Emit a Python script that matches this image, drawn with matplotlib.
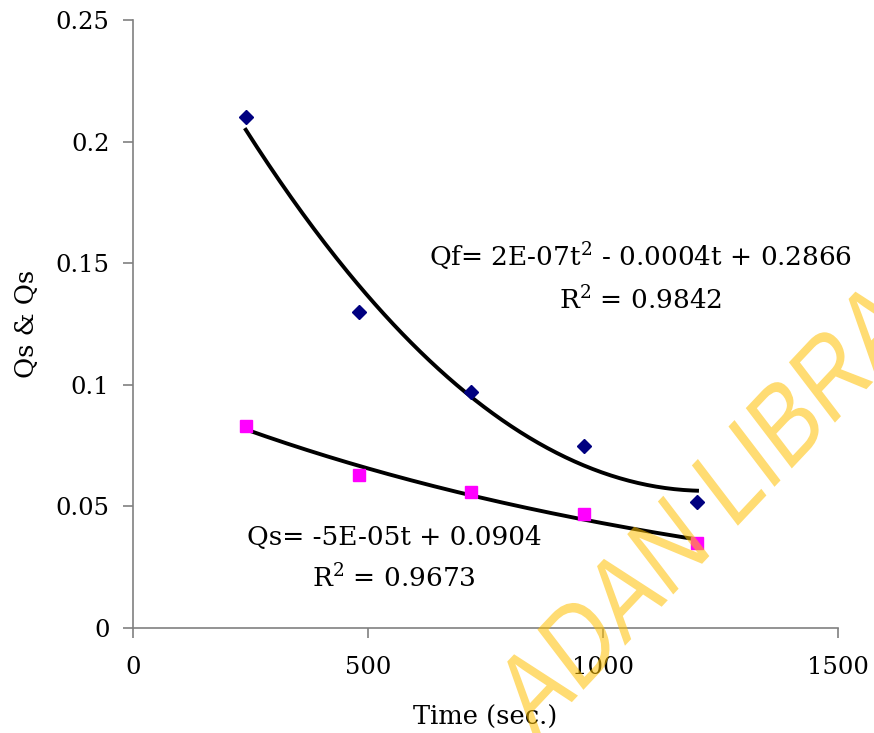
import numpy as np
import matplotlib
matplotlib.use("Agg")
import matplotlib.pyplot as plt
from matplotlib.textpath import TextPath
from matplotlib.patches import PathPatch
from matplotlib.font_manager import FontProperties
from matplotlib.transforms import Affine2D

# Data
time = [240, 480, 720, 960, 1200]
qf = [0.210, 0.130, 0.097, 0.075, 0.052]
qs = [0.083, 0.063, 0.056, 0.047, 0.035]
x_ticks = [0, 500, 1000, 1500]
y_ticks = [0, 0.05, 0.1, 0.15, 0.2, 0.25]
y_tick_labels = ["0", "0.05", "0.1", "0.15", "0.2", "0.25"]
eq_qf = r"Qf= 2E-07t$^2$ - 0.0004t + 0.2866"
r2_qf = r"R$^2$ = 0.9842"
eq_qs = r"Qs= -5E-05t + 0.0904"
r2_qs = r"R$^2$ = 0.9673"
wm_prefix = "ADAN LI"
wm_word = "BRARY"

plt.rcParams['font.family'] = ['DejaVu Serif']
plt.rcParams['mathtext.fontset'] = 'dejavuserif'

W, H = 874, 733
fig = plt.figure(figsize=(W/100, H/100), dpi=100)
ax = fig.add_axes([133/W, 1-628/H, (838-133)/W, (628-20)/H])

# trend lines
tt = np.linspace(min(time), max(time), 200)
pf = np.polyfit(time, qf, 2)
ax.plot(tt, np.polyval(pf, tt), color='black', lw=2.8, zorder=2)
ps = np.polyfit(time, np.log(qs), 1)
ax.plot(tt, np.exp(np.polyval(ps, tt)), color='black', lw=2.8, zorder=2)

ax.plot(time, qf, linestyle='none', marker='D', markersize=7.5, color='#000080', zorder=3)
ax.plot(time, qs, linestyle='none', marker='s', markersize=9, color='#FF00FF', zorder=3)

ax.set_xlim(0, 1500)
ax.set_ylim(0, 0.25)
ax.set_xticks(x_ticks)
ax.set_xticklabels([str(v) for v in x_ticks])
ax.set_yticks(y_ticks)
ax.set_yticklabels(y_tick_labels)
for s in ['top', 'right']:
    ax.spines[s].set_visible(False)
for s in ['left', 'bottom']:
    ax.spines[s].set_color('#808080')
    ax.spines[s].set_linewidth(1.2)
ax.tick_params(axis='both', direction='out', length=7, width=1.2, color='#808080', labelsize=17.5)
ax.tick_params(axis='y', pad=10)
ax.tick_params(axis='x', pad=13)
ax.set_xlabel("Time (sec.)", fontsize=18.5, labelpad=19)
ax.set_ylabel("Qs & Qs", fontsize=18.5, labelpad=12)

ax.text(1079, 0.1525, eq_qf, ha='center', va='center', fontsize=19)
ax.text(1079, 0.1349, r2_qf, ha='center', va='center', fontsize=19)
ax.text(556, 0.0374, eq_qs, ha='center', va='center', fontsize=19)
ax.text(556, 0.0206, r2_qs, ha='center', va='center', fontsize=19)

# watermark (condensed, rotated, slightly stretched vertically)
fp = FontProperties(family='Liberation Sans')
S = 100
full = wm_prefix + wm_word
p_full = TextPath((0, 0), full, size=S, prop=fp)
p_pre_B = TextPath((0, 0), wm_prefix + "B", size=S, prop=fp)
p_B = TextPath((0, 0), "B", size=S, prop=fp)
eB = p_B.get_extents()
bx = p_pre_B.get_extents().x1 - (eB.x1 - eB.x0) / 2
by = (eB.y0 + eB.y1) / 2
ang, k = 42.0, 1.18
rot = Affine2D().scale(0.87, 1).rotate_deg(ang).scale(1, k)
cx, cy = rot.transform((bx, by))
target = (786, H - 420)
tr = rot.translate(target[0] - cx, target[1] - cy)
patch = PathPatch(p_full, facecolor='#FFC000', edgecolor='none', alpha=0.55,
                  transform=tr, zorder=10)
fig.patches.append(patch)
patch.set_figure(fig)

fig.savefig("out.png", dpi=100)
